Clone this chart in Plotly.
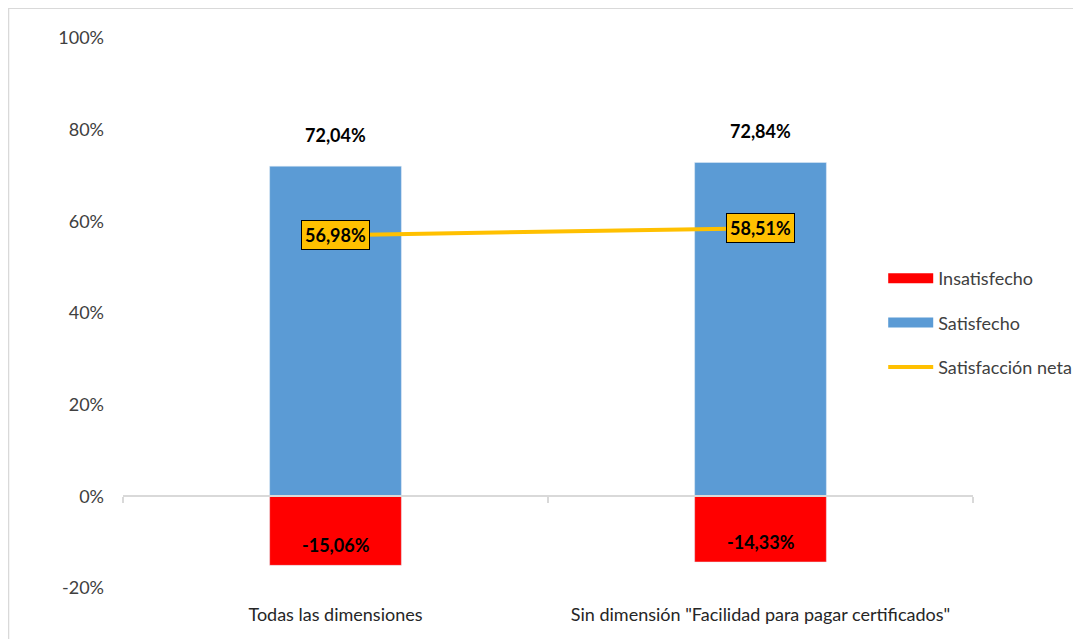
import plotly.graph_objects as go

categories = ["Todas las dimensiones", 'Sin dimensión "Facilidad para pagar certificados"']
insatisfecho = [-15.06, -14.33]
satisfecho = [72.04, 72.84]
neta = [56.98, 58.51]
y_ticks = [-20, 0, 20, 40, 60, 80, 100]
y_ticktext = ["-20%", "0%", "20%", "40%", "60%", "80%", "100%"]

BLUE = "#5B9BD5"
RED = "#FF0000"
YELLOW = "#FFC000"
FONT = "Lato"
FS = 18

def fmt(v):
    return f"{v:.2f}".replace(".", ",") + "%"

xpos = [0, 1]

fig = go.Figure()
fig.add_trace(go.Bar(x=xpos, y=satisfecho, marker_color=BLUE, width=0.31,
                     showlegend=False, hoverinfo="skip"))
fig.add_trace(go.Bar(x=xpos, y=insatisfecho, marker_color=RED, width=0.31,
                     showlegend=False, hoverinfo="skip"))
fig.add_trace(go.Scatter(x=xpos, y=neta, mode="lines",
                         line=dict(color=YELLOW, width=4), showlegend=False))

# legend proxies
fig.add_trace(go.Scatter(x=[None], y=[None], mode="lines", name="Insatisfecho",
                         line=dict(color=RED, width=10), legendgroup="a"))
fig.add_trace(go.Scatter(x=[None], y=[None], mode="lines", name="Satisfecho",
                         line=dict(color=BLUE, width=10), legendgroup="b"))
fig.add_trace(go.Scatter(x=[None], y=[None], mode="lines", name="Satisfacción neta",
                         line=dict(color=YELLOW, width=4), legendgroup="c"))

annotations = []
for x, v in zip(xpos, satisfecho):
    annotations.append(dict(x=x, y=v, text=f"<b>{fmt(v)}</b>", showarrow=False,
                            yshift=31, font=dict(size=FS, color="#000000", family=FONT)))
for x, v in zip(xpos, insatisfecho):
    annotations.append(dict(x=x, y=v, text=f"<b>{fmt(v)}</b>", showarrow=False,
                            yshift=20, font=dict(size=FS, color="#000000", family=FONT)))
for x, v in zip(xpos, neta):
    annotations.append(dict(x=x, y=v, text=f"<b>{fmt(v)}</b>", showarrow=False,
                            bgcolor=YELLOW, bordercolor="#000000", borderwidth=1,
                            borderpad=3,
                            font=dict(size=FS, color="#000000", family=FONT)))

L, T, PW, PH = 115, 30, 852, 550
fig.update_layout(
    width=1081, height=639,
    margin=dict(l=L, r=1081 - L - PW, t=T, b=639 - T - PH),
    paper_bgcolor="white", plot_bgcolor="white",
    barmode="relative",
    font=dict(family=FONT, size=FS, color="#404040"),
    annotations=annotations,
    xaxis=dict(range=[-0.5, 1.5], tickvals=xpos, ticktext=categories,
               showline=False, showgrid=False, zeroline=False, ticks="",
               tickfont=dict(size=FS, color="#262626"), ticklabelstandoff=14),
    xaxis2=dict(range=[-0.5, 1.5], overlaying="x", anchor="free",
                position=20 / 120, side="bottom", showline=True,
                linecolor="#D9D9D9", linewidth=2, ticks="outside",
                tickvals=[-0.5, 0.5, 1.5], ticklen=6, tickcolor="#D9D9D9",
                tickwidth=2, showticklabels=False, showgrid=False, zeroline=False),
    yaxis=dict(range=[-20, 100], tickvals=y_ticks, ticktext=y_ticktext,
               showgrid=False, zeroline=False, showline=False,
               tickfont=dict(size=FS, color="#404040"), ticklabelstandoff=18),
    legend=dict(x=(885 - 123) / PW, y=(588 - 260) / PH, xanchor="left", yanchor="top",
                tracegroupgap=18, itemwidth=45,
                font=dict(size=FS, color="#404040", family=FONT),
                bgcolor="rgba(0,0,0,0)"),
    shapes=[dict(type="rect", xref="paper", yref="paper",
                 x0=(8 - 123) / PW, x1=(1095 - 123) / PW,
                 y0=(588 - 660) / PH, y1=(588 - 8) / PH,
                 line=dict(color="#D9D9D9", width=2), fillcolor="rgba(0,0,0,0)",
                 layer="below")],
)
# ensure xaxis2 is drawn
fig.add_trace(go.Scatter(x=[None], y=[None], xaxis="x2", showlegend=False))

fig.write_html("out.html")
